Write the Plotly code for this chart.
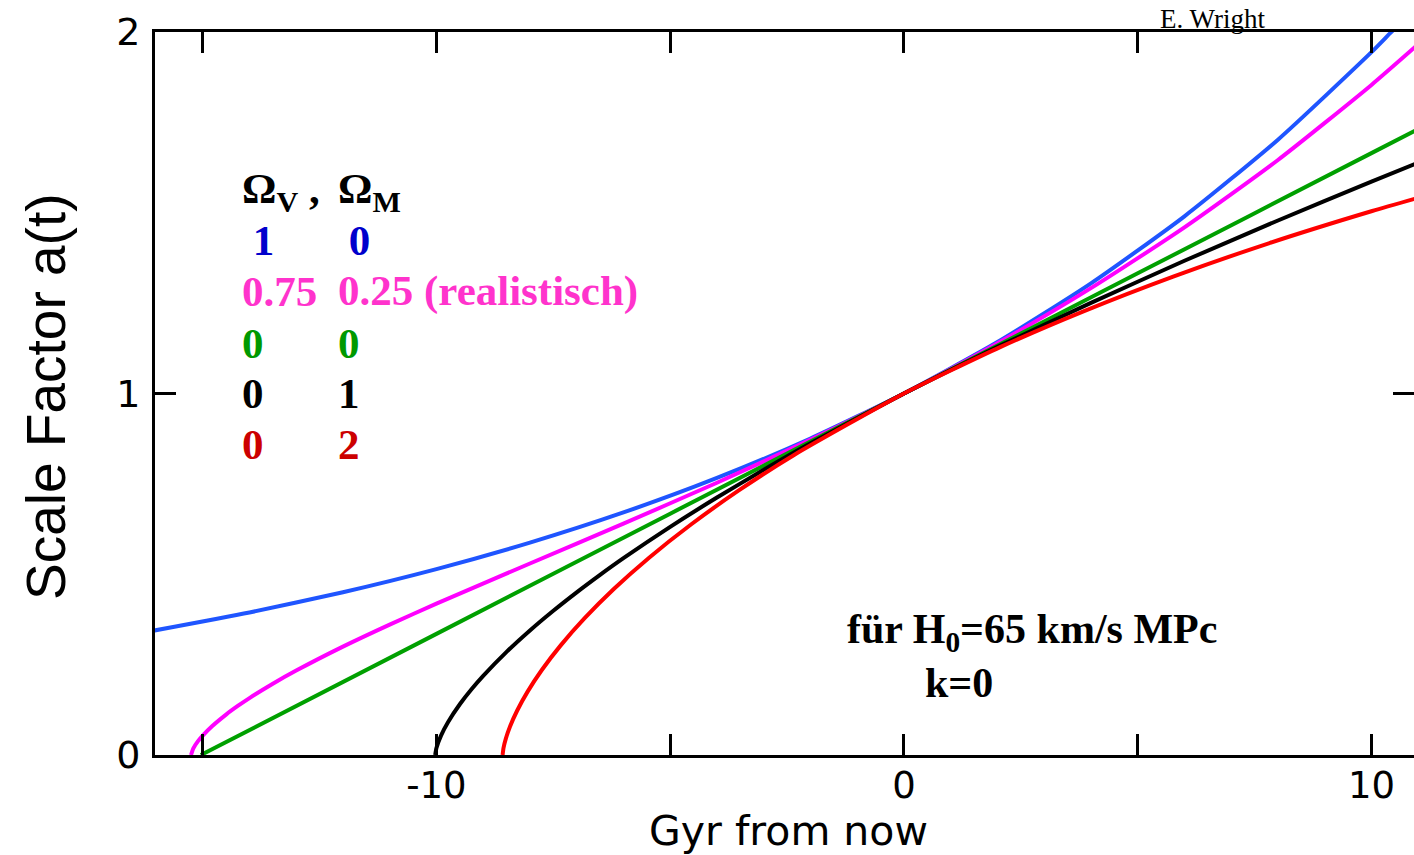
import plotly.graph_objects as go

# Scale factor a(t) for five model universes, H0 = 65 km/s/Mpc
# time axis: Gyr from now

t_vac = [-16.1, -14, -12, -10, -8, -6, -4, -2, 0, 2, 4, 6, 8, 10, 10.4, 10.95]
a_vac = [0.3428, 0.3942, 0.4503, 0.5143, 0.5875, 0.6710, 0.7665, 0.8755, 1.0,
         1.1422, 1.3047, 1.4902, 1.7022, 1.9443, 1.9967, 2.068]

t_real = [-15.25, -15.2, -15.1, -15.0, -14.8, -14.5, -14.25, -14, -13.5, -13,
          -12, -11, -10, -8, -6, -4, -2, 0, 2, 4, 6, 8, 10, 11]
a_real = [0.0, 0.0184, 0.0382, 0.0538, 0.0796, 0.1119, 0.1356, 0.1575, 0.1973,
          0.2336, 0.2999, 0.3608, 0.4187, 0.5298, 0.6400, 0.7532, 0.8724, 1.0,
          1.1391, 1.2914, 1.4596, 1.6460, 1.8536, 1.9661]

t_empty = [-15.04, -10, -5, 0, 5, 10, 11]
a_empty = [0.0, 0.3351, 0.6676, 1.0, 1.3324, 1.6649, 1.7314]

t_matter = [-10.027, -10.0, -9.9, -9.75, -9.5, -9.25, -9, -8.5, -8, -7.5, -7,
            -6.5, -6, -5, -4, -3, -2, 0, 2, 4, 6, 8, 10, 11]
a_matter = [0.0, 0.0194, 0.0543, 0.0914, 0.1403, 0.1818, 0.2189, 0.2852,
            0.3445, 0.3990, 0.4500, 0.4983, 0.5444, 0.6311, 0.7122, 0.7890,
            0.8622, 1.0, 1.1289, 1.2508, 1.3671, 1.4786, 1.5860, 1.6384]

t_closed = [-8.585, -8.565, -8.517, -8.426, -8.275, -8.053, -7.746, -7.342,
            -6.830, -6.201, -5.445, -4.555, -3.525, -2.350, 0, 2.069, 3.840,
            5.759, 7.819, 10.016, 11.164]
a_closed = [0.0, 0.0199, 0.0447, 0.0789, 0.1224, 0.1747, 0.2352, 0.3033,
            0.3784, 0.4597, 0.5464, 0.6376, 0.7325, 0.8300, 1.0, 1.1288,
            1.2272, 1.3233, 1.4162, 1.5049, 1.5474]

series = [
    (t_vac, a_vac, "#1f55ff"),
    (t_real, a_real, "#ff00ff"),
    (t_empty, a_empty, "#00a000"),
    (t_matter, a_matter, "#000000"),
    (t_closed, a_closed, "#ff0000"),
]

x_major = [-10, 0, 10]
x_major_text = ["-10", "0", "10"]
x_minor = [-15, -5, 5]
y_ticks = [0, 1, 2]
y_ticktext = ["0", "1", "2"]

# legend rows: Omega_V, Omega_M, colour
leg_v = ["<b> 1</b>", "<b>0.75</b>", "<b>0</b>", "<b>0</b>", "<b>0</b>"]
leg_m = ["<b> 0</b>", "<b>0.25 (realistisch)</b>", "<b>0</b>", "<b>1</b>", "<b>2</b>"]
leg_col = ["#0000cc", "#ff33cc", "#009900", "#000000", "#cc0000"]

fig = go.Figure()
for tx, ay, col in series:
    fig.add_trace(go.Scatter(x=tx, y=ay, mode="lines",
                             line=dict(color=col, width=4, shape="spline", smoothing=0.6),
                             hoverinfo="skip", showlegend=False))
# carrier for the right-hand tick axis
fig.add_trace(go.Scatter(x=[0], y=[1], yaxis="y2", mode="markers",
                         marker=dict(opacity=0), hoverinfo="skip", showlegend=False))

serif = "Liberation Serif, Times New Roman, serif"
sans = "Liberation Sans, Arial, Helvetica, sans-serif"
wide = "DejaVu Sans, Verdana, sans-serif"

W, H = 1414, 855
L, R, T, B = 155, 0, 32, 100
pw, ph = W - L - R, H - T - B
x0, x1 = -16.02, 10.91


def px_x(px):
    return x0 + (px - L) / pw * (x1 - x0)


def py_y(py):
    return (H - B - py) / ph * 2.0


ann = []
# axis titles
ann.append(dict(text="Scale Factor a(t)", xref="paper", yref="paper",
                x=(46 - L) / pw, y=(H - B - 397) / ph, textangle=-90,
                showarrow=False, font=dict(family=sans, size=55, color="#000"),
                xanchor="center", yanchor="middle"))
ann.append(dict(text="Gyr from now", xref="paper", yref="paper",
                x=(788 - L) / pw, y=(H - B - 831) / ph,
                showarrow=False, font=dict(family=wide, size=41, color="#000"),
                xanchor="center", yanchor="middle"))

# legend header
ann.append(dict(text="<b>Ω<sub>V</sub> ,</b>", x=px_x(240), y=py_y(192), xref="x", yref="y",
                showarrow=False, xanchor="left", yanchor="middle",
                font=dict(family=serif, size=43, color="#000")))
ann.append(dict(text="<b>Ω<sub>M</sub></b>", x=px_x(336), y=py_y(192), xref="x", yref="y",
                showarrow=False, xanchor="left", yanchor="middle",
                font=dict(family=serif, size=43, color="#000")))
row_y = [240, 291, 343, 393, 444]
for v, m, c, ry in zip(leg_v, leg_m, leg_col, row_y):
    ann.append(dict(text=v, x=px_x(240), y=py_y(ry), xref="x", yref="y",
                    showarrow=False, xanchor="left", yanchor="middle",
                    font=dict(family=serif, size=43, color=c)))
    ann.append(dict(text=m, x=px_x(336), y=py_y(ry), xref="x", yref="y",
                    showarrow=False, xanchor="left", yanchor="middle",
                    font=dict(family=serif, size=43, color=c)))

# parameter note
ann.append(dict(text="<b>für H<sub>0</sub>=65 km/s MPc</b>", x=px_x(845), y=py_y(632),
                xref="x", yref="y", showarrow=False, xanchor="left", yanchor="middle",
                font=dict(family=serif, size=42, color="#000")))
ann.append(dict(text="<b>k=0</b>", x=px_x(923), y=py_y(683),
                xref="x", yref="y", showarrow=False, xanchor="left", yanchor="middle",
                font=dict(family=serif, size=42, color="#000")))
# credit
ann.append(dict(text="E. Wright", xref="paper", yref="paper",
                x=(1158 - L) / pw, y=(H - B - 19) / ph,
                showarrow=False, xanchor="left", yanchor="middle",
                font=dict(family=serif, size=27, color="#000")))

tick_style = dict(ticks="inside", ticklen=21, tickwidth=3, tickcolor="#000",
                  showgrid=False, zeroline=False)

fig.update_layout(
    width=W, height=H,
    margin=dict(l=L, r=R, t=T, b=B, pad=0),
    paper_bgcolor="white", plot_bgcolor="white",
    annotations=ann,
    xaxis=dict(range=[x0, x1], tickmode="array", tickvals=x_major, ticktext=x_major_text,
               minor=dict(tickmode="array", tickvals=x_minor, ticks="inside",
                          ticklen=21, tickwidth=3, tickcolor="#000", showgrid=False),
               showline=True, linewidth=3, linecolor="#000", mirror="ticks",
               tickfont=dict(family=wide, size=37, color="#000"),
               ticklabelstandoff=-4, **tick_style),
    yaxis=dict(range=[0, 2], tickmode="array", tickvals=y_ticks, ticktext=y_ticktext,
               showline=True, linewidth=3, linecolor="#000", mirror=False,
               tickfont=dict(family=wide, size=38, color="#000"),
               ticklabelstandoff=4, **tick_style),
    yaxis2=dict(range=[0, 2], overlaying="y", side="right", anchor="x",
                tickmode="array", tickvals=y_ticks, showticklabels=False,
                showline=False, **tick_style),
)

fig.write_html("out.html")
